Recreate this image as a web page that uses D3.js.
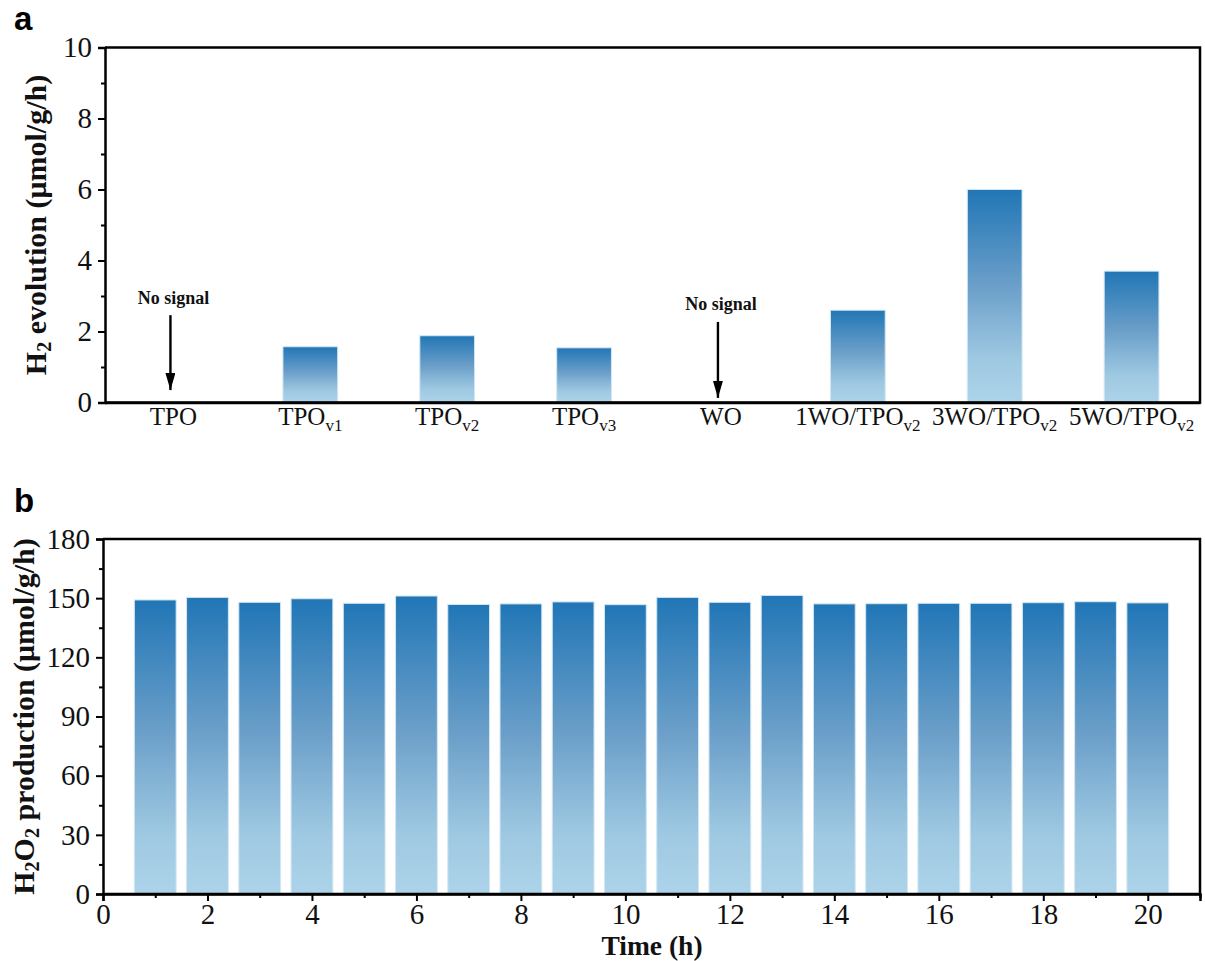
<!DOCTYPE html>
<html>
<head>
<meta charset="utf-8">
<script src="https://cdn.jsdelivr.net/npm/d3@7"></script>
<style>
  html, body { margin: 0; padding: 0; background: #fff; }
  svg { display: block; }
</style>
</head>
<body>
<svg id="chart" width="1205" height="961"></svg>
<script>
// ---- Panel a: H2 evolution per sample ----
const sampleBase = ["TPO", "TPO", "TPO", "TPO", "WO", "1WO/TPO", "3WO/TPO", "5WO/TPO"];
const sampleSub  = ["",    "v1",  "v2",  "v3",  "",   "v2",      "v2",      "v2"];
const h2Values   = [null, 1.57, 1.88, 1.54, null, 2.60, 6.00, 3.70];
const h2Ticks    = [0, 2, 4, 6, 8, 10];
const h2Minor    = [1, 3, 5, 7, 9];
// "No signal" notes: sample index, text value, arrow start, arrow tip
const noSignalIdx   = [0, 4];
const noSignalText  = [2.77, 2.60];
const noSignalStart = [2.46, 2.27];
const noSignalTip   = [0.35, 0.13];

// ---- Panel b: H2O2 production over time ----
const hours = d3.range(1, 21);
const h2o2Values = [149.1, 150.4, 147.9, 149.7, 147.4, 151.1, 146.8, 147.1, 148.1, 146.7,
                    150.4, 147.9, 151.4, 147.1, 147.2, 147.4, 147.4, 147.7, 148.2, 147.6];
const h2o2Ticks = [0, 30, 60, 90, 120, 150, 180];
const h2o2Minor = [15, 45, 75, 105, 135, 165];
const timeTicks = [0, 2, 4, 6, 8, 10, 12, 14, 16, 18, 20];
const timeMinor = [1, 3, 5, 7, 9, 11, 13, 15, 17, 19, 21];

const svg = d3.select("#chart");
const serif = "'Liberation Serif', 'Times New Roman', serif";
const sans = "'Liberation Sans', Arial, sans-serif";

// vertical blue gradient used by every bar
const defs = svg.append("defs");
const grad = defs.append("linearGradient")
  .attr("id", "barGrad").attr("x1", 0).attr("y1", 0).attr("x2", 0).attr("y2", 1);
grad.append("stop").attr("offset", "0%").attr("stop-color", "#2176b6");
grad.append("stop").attr("offset", "45%").attr("stop-color", "#6b9fc9");
grad.append("stop").attr("offset", "80%").attr("stop-color", "#9fc9e2");
grad.append("stop").attr("offset", "100%").attr("stop-color", "#acd3e9");

defs.append("marker")
  .attr("id", "arrowHead").attr("viewBox", "0 0 17 10")
  .attr("refX", 17).attr("refY", 5)
  .attr("markerWidth", 17).attr("markerHeight", 10)
  .attr("markerUnits", "userSpaceOnUse")
  .attr("orient", "auto")
  .append("path").attr("d", "M0,0 L17,5 L0,10 Z").attr("fill", "#000");

function styleAxis(g) {
  g.selectAll("path.domain").attr("stroke", "#000").attr("stroke-width", 2.5);
  g.selectAll(".tick line").attr("stroke", "#000").attr("stroke-width", 2);
  g.selectAll(".tick text").attr("font-family", serif).attr("fill", "#111");
}

function frame(g, x0, x1, y0, y1) {
  g.append("path")
    .attr("d", `M${x0},${y1} L${x1},${y1} L${x1},${y0} L${x0},${y0}`)
    .attr("fill", "none").attr("stroke", "#000").attr("stroke-width", 2.5);
}

// ================= Panel a =================
{
  const L = 105, R = 1200, T = 47.5, B = 402.5;
  const x = d3.scalePoint().domain(d3.range(sampleBase.length)).range([L, R]).padding(0.5);
  const step = x.step();
  const barW = step * 0.4;
  const y = d3.scaleLinear().domain([0, 10]).range([B, T]);
  const g = svg.append("g");

  g.selectAll("rect.bar")
    .data(h2Values.map((v, i) => ({ v, i })).filter(d => d.v !== null))
    .join("rect")
    .attr("class", "bar")
    .attr("x", d => x(d.i) - barW / 2)
    .attr("width", barW)
    .attr("y", d => y(d.v))
    .attr("height", d => y(0) - y(d.v))
    .attr("fill", "url(#barGrad)")
    .attr("stroke", "#d2e7f3").attr("stroke-width", 1);

  frame(g, L, R, T, B);

  const yAxis = g.append("g").attr("transform", `translate(${L},0)`)
    .call(d3.axisLeft(y).tickValues(h2Ticks).tickSize(7).tickPadding(6).tickFormat(d3.format("d")));
  yAxis.selectAll(".tick text").attr("font-size", 29);
  styleAxis(yAxis);
  g.append("g").attr("transform", `translate(${L},0)`)
    .call(d3.axisLeft(y).tickValues(h2Minor).tickSize(4).tickFormat(""))
    .call(a => { a.select(".domain").remove(); a.selectAll("line").attr("stroke", "#000").attr("stroke-width", 2); });

  const xAxis = g.append("g").attr("transform", `translate(0,${B})`)
    .call(d3.axisBottom(x).tickSize(0).tickPadding(0).tickFormat(""));
  xAxis.select(".domain").attr("stroke", "#000").attr("stroke-width", 2.5);

  // sample names with subscripts
  const lab = g.selectAll("text.cat").data(sampleBase.map((b, i) => ({ b, s: sampleSub[i], i })))
    .join("text").attr("class", "cat")
    .attr("x", d => x(d.i)).attr("y", 425)
    .attr("text-anchor", "middle")
    .attr("font-family", serif).attr("font-size", 25).attr("fill", "#111");
  lab.append("tspan").text(d => d.b);
  lab.filter(d => d.s).append("tspan")
    .attr("font-size", 17).attr("dy", 6).text(d => d.s);

  // "No signal" annotations
  noSignalIdx.forEach((idx, k) => {
    g.append("text")
      .attr("x", x(idx)).attr("y", y(noSignalText[k]))
      .attr("text-anchor", "middle")
      .attr("font-family", serif).attr("font-weight", "bold").attr("font-size", 18)
      .attr("fill", "#111").text("No signal");
    g.append("line")
      .attr("x1", x(idx) - 3).attr("x2", x(idx) - 3)
      .attr("y1", y(noSignalStart[k])).attr("y2", y(noSignalTip[k]))
      .attr("stroke", "#000").attr("stroke-width", 2.4)
      .attr("marker-end", "url(#arrowHead)");
  });

  // y title
  const yt = g.append("text")
    .attr("transform", `translate(46,${(T + B) / 2}) rotate(-90)`)
    .attr("text-anchor", "middle")
    .attr("font-family", serif).attr("font-weight", "bold").attr("font-size", 30).attr("fill", "#111");
  yt.append("tspan").text("H");
  yt.append("tspan").attr("font-size", 20).attr("dy", 5).text("2");
  yt.append("tspan").attr("dy", -5).text(" evolution (μmol/g/h)");

  svg.append("text").attr("x", 14).attr("y", 30)
    .attr("font-family", sans).attr("font-weight", "bold").attr("font-size", 33)
    .attr("fill", "#000").text("a");
}

// ================= Panel b =================
{
  const L = 103, R = 1200, T = 539, B = 894;
  const x = d3.scaleLinear().domain([0, 21]).range([L, R]);
  const y = d3.scaleLinear().domain([0, 180]).range([B, T]);
  const barW = x(0.8) - x(0);
  const g = svg.append("g");

  g.selectAll("rect.bar")
    .data(hours.map((h, i) => ({ h, v: h2o2Values[i] })))
    .join("rect")
    .attr("class", "bar")
    .attr("x", d => x(d.h) - barW / 2)
    .attr("width", barW)
    .attr("y", d => y(d.v))
    .attr("height", d => y(0) - y(d.v))
    .attr("fill", "url(#barGrad)")
    .attr("stroke", "#d2e7f3").attr("stroke-width", 1);

  frame(g, L, R, T, B);

  const yAxis = g.append("g").attr("transform", `translate(${L},0)`)
    .call(d3.axisLeft(y).tickValues(h2o2Ticks).tickSize(7).tickPadding(6).tickFormat(d3.format("d")));
  yAxis.selectAll(".tick text").attr("font-size", 29);
  styleAxis(yAxis);
  g.append("g").attr("transform", `translate(${L},0)`)
    .call(d3.axisLeft(y).tickValues(h2o2Minor).tickSize(4).tickFormat(""))
    .call(a => { a.select(".domain").remove(); a.selectAll("line").attr("stroke", "#000").attr("stroke-width", 2); });

  const xAxis = g.append("g").attr("transform", `translate(0,${B})`)
    .call(d3.axisBottom(x).tickValues(timeTicks).tickSize(7).tickPadding(2).tickFormat(d3.format("d")));
  xAxis.selectAll(".tick text").attr("font-size", 29);
  styleAxis(xAxis);
  g.append("g").attr("transform", `translate(0,${B})`)
    .call(d3.axisBottom(x).tickValues(timeMinor).tickSize(4).tickFormat(""))
    .call(a => { a.select(".domain").remove(); a.selectAll("line").attr("stroke", "#000").attr("stroke-width", 2); });

  g.append("text")
    .attr("x", 652).attr("y", 954.5)
    .attr("text-anchor", "middle")
    .attr("font-family", serif).attr("font-weight", "bold").attr("font-size", 27.5).attr("fill", "#111")
    .text("Time (h)");

  const yt = g.append("text")
    .attr("transform", `translate(34,${(T + B) / 2}) rotate(-90)`)
    .attr("text-anchor", "middle")
    .attr("font-family", serif).attr("font-weight", "bold").attr("font-size", 30).attr("fill", "#111");
  yt.append("tspan").text("H");
  yt.append("tspan").attr("font-size", 20).attr("dy", 5).text("2");
  yt.append("tspan").attr("dy", -5).text("O");
  yt.append("tspan").attr("font-size", 20).attr("dy", 5).text("2");
  yt.append("tspan").attr("dy", -5).text(" production (μmol/g/h)");

  svg.append("text").attr("x", 14).attr("y", 512)
    .attr("font-family", sans).attr("font-weight", "bold").attr("font-size", 33)
    .attr("fill", "#000").text("b");
}
</script>
</body>
</html>
